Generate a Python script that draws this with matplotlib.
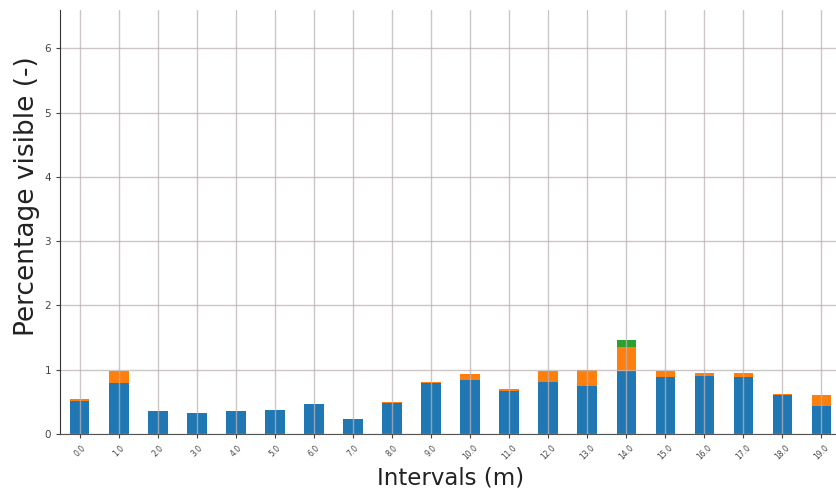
import numpy as np
import pandas as pd
from matplotlib import pyplot as plt

# interval start positions (m)
intervals = np.arange(0.0, 20.0, 1.0)

# visible fraction per interval, split in three stacked parts
part_a = [0.52, 0.80, 0.36, 0.33, 0.36, 0.38, 0.47, 0.23, 0.48, 0.80,
          0.84, 0.67, 0.81, 0.75, 0.975, 0.89, 0.91, 0.88, 0.60, 0.44]
part_b = [0.03, 0.18, 0.00, 0.00, 0.00, 0.00, 0.00, 0.00, 0.02, 0.01,
          0.09, 0.03, 0.17, 0.25, 0.385, 0.095, 0.04, 0.07, 0.02, 0.16]
part_c = [0.00, 0.00, 0.00, 0.00, 0.00, 0.00, 0.00, 0.00, 0.00, 0.00,
          0.00, 0.00, 0.00, 0.00, 0.10, 0.00, 0.00, 0.00, 0.00, 0.00]

df = pd.DataFrame({"a": part_a, "b": part_b, "c": part_c}, index=intervals)

fig = plt.figure(figsize=(8.36, 4.91), dpi=100)
ax = fig.add_axes([0.072, 0.116, 0.934, 0.864])

df.plot.bar(stacked=True, ax=ax, legend=False, rot=45, width=0.5)

ax.set_ylim(0, 6.6)
ax.set_yticks(range(0, 7))
ax.grid(True, color="#bdb3b3", linewidth=1.0, alpha=0.75)

ax.spines["top"].set_visible(False)
ax.spines["right"].set_visible(False)
ax.spines["left"].set_color("#333333")
ax.spines["bottom"].set_color("#555555")

ax.tick_params(axis="x", labelsize=5.5, length=3, colors="#444444")
ax.tick_params(axis="y", labelsize=7.5, length=3, colors="#444444")

ax.set_xlabel("Intervals (m)", fontsize=16.5, color="#222222")
ax.set_ylabel("Percentage visible (-)", fontsize=19, color="#222222")
ax.yaxis.set_label_coords(-0.026, 0.561)

fig.savefig("out.png", dpi=100)
